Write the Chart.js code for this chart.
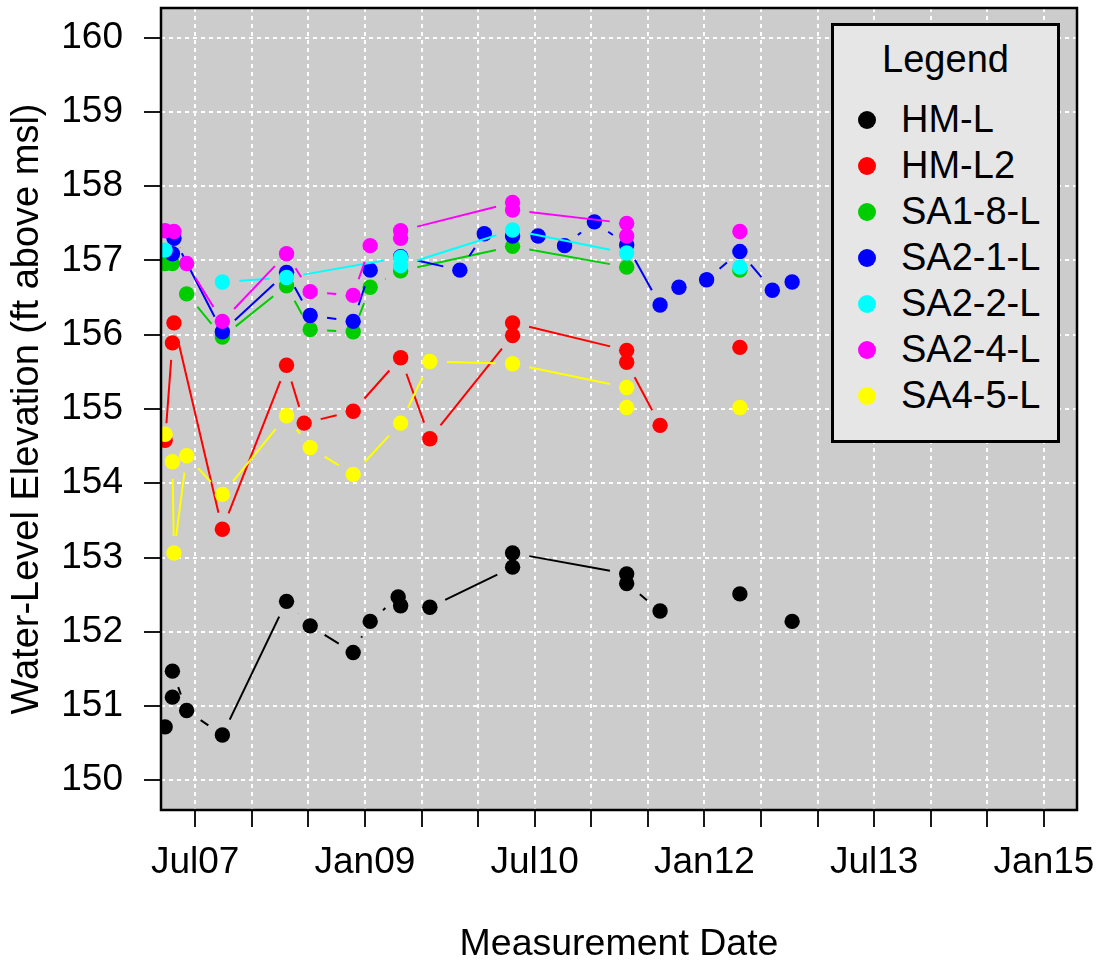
<!DOCTYPE html>
<html lang="en">
<head>
<meta charset="UTF-8">
<title>Water-Level Elevation</title>
<script src="https://cdn.jsdelivr.net/npm/chart.js"></script>
<style>
    body {
        margin: 0;
        background-color: #fff;
        font-family: "Liberation Sans", Arial, sans-serif;
    }
    .wrap {
        position: relative;
        width: 1099px;
        height: 963px;
    }
    #legend {
        position: absolute;
        left: 831px;
        top: 23px;
        width: 229px;
        height: 420px;
        box-sizing: border-box;
        border: 3px solid #000;
        background-color: #e6e6e6;
        color: #000;
    }
    #legend .title {
        position: absolute;
        left: 0;
        width: 100%;
        top: 15px;
        text-align: center;
        font-size: 38px;
        line-height: 37px;
    }
    #legend .row {
        position: absolute;
        left: 0;
        height: 37px;
        line-height: 37px;
        font-size: 38px;
        white-space: nowrap;
    }
    #legend .dot {
        position: absolute;
        left: 24px;
        top: 10px;
        width: 18px;
        height: 18px;
        border-radius: 50%;
    }
    #legend .label {
        position: absolute;
        left: 67px;
        top: 0;
    }
</style>
</head>
<body>
<div class="wrap">
    <canvas id="chartCanvas" width="1099" height="963"></canvas>
    <div id="legend"></div>
</div>
<script>
    // well names and colours, legend order
    const wellNames = ['HM-L', 'HM-L2', 'SA1-8-L', 'SA2-1-L', 'SA2-2-L', 'SA2-4-L', 'SA4-5-L'];
    const wellColors = ['#000000', '#ff0000', '#00cd00', '#0000ff', '#00ffff', '#ff00ff', '#ffff00'];

    // measurements (ft above msl), null = missing reading (breaks the line)
    const hmlDates = ['2007-03-26', '2007-04-19', '2007-04-19', '2007-06-04', '2007-09-28', '2008-04-22', '2008-07-07',
        '2008-11-24', '2009-01-18', '2009-04-17', '2009-04-25', '2009-07-28', '2010-04-21', '2010-04-21',
        '2011-04-24', '2011-04-24', '2011-08-10', '2012-01-08', '2012-04-24', '2012-08-07', '2012-10-10'];
    const hmlLevels = [150.72, 151.12, 151.47, 150.94, 150.61, 152.41, 152.08,
        151.72, 152.14, 152.47, 152.35, 152.33, 152.87, 153.06,
        152.78, 152.65, 152.28, null, 152.51, null, 152.14];

    const hml2Dates = ['2007-03-26', '2007-04-19', '2007-04-24', '2007-09-28', '2008-04-22', '2008-06-18', '2008-11-24',
        '2009-04-25', '2009-07-28', '2010-04-21', '2010-04-21', '2011-04-24', '2011-04-24', '2011-08-10',
        '2012-01-08', '2012-04-24'];
    const hml2Levels = [154.58, 155.89, 156.16, 153.38, 155.59, 154.81, 154.97,
        155.69, 154.60, 155.99, 156.16, 155.79, 155.63, 154.78,
        null, 155.83];

    const sa18Dates = ['2007-03-26', '2007-04-19', '2007-06-04', '2007-09-28', '2008-04-22', '2008-07-07', '2008-11-24',
        '2009-01-18', '2009-04-25', '2010-04-21', '2011-04-24', '2012-01-08', '2012-04-24'];
    const sa18Levels = [156.96, 156.96, 156.55, 155.97, 156.66, 156.07, 156.04,
        156.64, 156.86, 157.19, 156.91, null, 156.87];

    const sa21Dates = ['2007-04-19', '2007-04-24', '2007-09-28', '2008-04-22', '2008-07-07', '2008-11-24', '2009-01-18',
        '2009-04-25', '2009-11-03', '2010-01-21', '2010-04-21', '2010-07-12', '2010-10-06', '2011-01-11',
        '2011-04-24', '2011-08-10', '2011-10-10', '2012-01-08', '2012-04-24', '2012-08-07', '2012-10-10'];
    const sa21Levels = [157.09, 157.30, 156.04, 156.84, 156.26, 156.18, 156.87,
        157.05, 156.87, 157.36, 157.33, 157.33, 157.20, 157.52,
        157.21, 156.40, 156.64, 156.74, 157.12, 156.60, 156.71];

    const sa22Dates = ['2007-03-26', '2007-06-04', '2007-09-28', '2008-04-22', '2009-04-25', '2009-04-25', '2010-04-21',
        '2011-04-24', '2012-01-08', '2012-04-24'];
    const sa22Levels = [157.14, null, 156.71, 156.77, 157.04, 156.93, 157.41,
        157.10, null, 156.91];

    const sa24Dates = ['2007-03-26', '2007-04-24', '2007-06-04', '2007-09-28', '2008-04-22', '2008-07-07', '2008-11-24',
        '2009-01-18', '2009-04-25', '2009-04-25', '2010-04-21', '2010-04-21', '2011-04-24', '2011-04-24',
        '2012-01-08', '2012-04-24'];
    const sa24Levels = [157.40, 157.39, 156.96, 156.18, 157.09, 156.58, 156.53,
        157.20, 157.30, 157.40, 157.78, 157.68, 157.50, 157.33,
        null, 157.39];

    const sa45Dates = ['2007-03-26', '2007-04-19', '2007-04-24', '2007-06-04', '2007-09-28', '2008-04-22', '2008-07-07',
        '2008-11-24', '2009-04-25', '2009-07-28', '2010-04-21', '2011-04-24', '2011-04-24', '2012-01-08',
        '2012-04-24'];
    const sa45Levels = [154.66, 154.29, 153.06, 154.37, 153.85, 154.91, 154.48,
        154.12, 154.81, 155.64, 155.61, 155.29, 155.02, null,
        155.02];

    // axis ticks (every six months, label every 18 months)
    const tickDates = ['2007-07-01', '2008-01-01', '2008-07-01', '2009-01-01', '2009-07-01', '2010-01-01',
        '2010-07-01', '2011-01-01', '2011-07-01', '2012-01-01', '2012-07-01', '2013-01-01',
        '2013-07-01', '2014-01-01', '2014-07-01', '2015-01-01'];
    const tickLabels = ['Jul07', '', '', 'Jan09', '', '', 'Jul10', '', '', 'Jan12', '', '', 'Jul13', '', '', 'Jan15'];
    const yTicks = [150, 151, 152, 153, 154, 155, 156, 157, 158, 159, 160];

    const wellDates = [hmlDates, hml2Dates, sa18Dates, sa21Dates, sa22Dates, sa24Dates, sa45Dates];
    const wellLevels = [hmlLevels, hml2Levels, sa18Levels, sa21Levels, sa22Levels, sa24Levels, sa45Levels];

    // months since Jan 2007
    function toMonths(s) {
        const [y, m, d] = s.split('-').map(Number);
        return (y - 2007) * 12 + (m - 1) + (d - 1) / 30.44;
    }

    const FONT = '"Liberation Sans", Arial, sans-serif';
    const GAP = 17;

    // R type="b" style lines: segments with a gap around each point
    const gapLines = {
        id: 'gapLines',
        beforeDatasetDraw(chart, args) {
            const ds = chart.data.datasets[args.index];
            const pts = args.meta.data;
            const area = chart.chartArea;
            const ctx = chart.ctx;
            ctx.save();
            ctx.beginPath();
            ctx.rect(area.left, area.top, area.right - area.left, area.bottom - area.top);
            ctx.clip();
            ctx.strokeStyle = ds.backgroundColor;
            ctx.lineWidth = 2;
            ctx.beginPath();
            for (let i = 1; i < pts.length; i++) {
                if (ds.data[i - 1].y == null || ds.data[i].y == null) continue;
                const a = pts[i - 1], b = pts[i];
                const dx = b.x - a.x, dy = b.y - a.y;
                const d = Math.hypot(dx, dy);
                if (d <= 2 * GAP) continue;
                const ux = dx / d, uy = dy / d;
                ctx.moveTo(a.x + ux * GAP, a.y + uy * GAP);
                ctx.lineTo(b.x - ux * GAP, b.y - uy * GAP);
            }
            ctx.stroke();
            ctx.restore();
        }
    };

    const plotFrame = {
        id: 'plotFrame',
        beforeDraw(chart) {
            const a = chart.chartArea;
            const ctx = chart.ctx;
            ctx.save();
            ctx.fillStyle = '#cccccc';
            ctx.fillRect(a.left, a.top, a.right - a.left, a.bottom - a.top);
            ctx.restore();
        },
        afterDraw(chart) {
            const a = chart.chartArea;
            const ctx = chart.ctx;
            ctx.save();
            ctx.strokeStyle = '#000';
            ctx.lineWidth = 2.5;
            ctx.strokeRect(a.left, a.top, a.right - a.left, a.bottom - a.top);
            ctx.restore();
        }
    };

    const datasets = wellNames.map((name, k) => ({
        label: name,
        data: wellDates[k].map((d, i) => ({ x: toMonths(d), y: wellLevels[k][i] })),
        backgroundColor: wellColors[k],
        borderColor: wellColors[k],
        pointRadius: 7.7,
        pointBorderWidth: 0,
        showLine: false,
        clip: 0,
        order: wellNames.length - k
    }));

    const ctx = document.getElementById('chartCanvas').getContext('2d');
    new Chart(ctx, {
        type: 'scatter',
        data: { datasets: datasets },
        options: {
            responsive: false,
            animation: false,
            events: [],
            layout: { padding: { top: 8, right: 22, left: 0, bottom: 0 } },
            plugins: {
                legend: { display: false },
                tooltip: { enabled: false }
            },
            scales: {
                x: {
                    type: 'linear',
                    min: 2.38,
                    max: 99.5,
                    afterBuildTicks: s => { s.ticks = tickDates.map(d => ({ value: toMonths(d) })); },
                    afterFit: s => { s.height = 153; s.paddingLeft = 0; s.paddingRight = 0; },
                    ticks: {
                        autoSkip: false,
                        maxRotation: 0,
                        minRotation: 0,
                        padding: 14,
                        color: '#000',
                        font: { family: FONT, size: 37 },
                        callback: (v, i) => tickLabels[i]
                    },
                    grid: {
                        color: '#ffffff',
                        lineWidth: 2,
                        tickColor: '#000',
                        tickLength: 17,
                        tickWidth: 1.8
                    },
                    border: { display: false, dash: [4, 4] },
                    title: {
                        display: true,
                        text: 'Measurement Date',
                        color: '#000',
                        font: { family: FONT, size: 37.5 },
                        padding: { top: 0, bottom: -4 }
                    }
                },
                y: {
                    min: 149.6,
                    max: 160.4,
                    afterBuildTicks: s => { s.ticks = yTicks.map(v => ({ value: v })); },
                    afterFit: s => { s.width = 161; s.paddingTop = 0; s.paddingBottom = 0; },
                    ticks: {
                        padding: 21,
                        color: '#000',
                        font: { family: FONT, size: 37 },
                        callback: v => String(v)
                    },
                    grid: {
                        color: '#ffffff',
                        lineWidth: 2,
                        tickColor: '#000',
                        tickLength: 17,
                        tickWidth: 1.8
                    },
                    border: { display: false, dash: [4, 4] },
                    title: {
                        display: true,
                        text: 'Water-Level Elevation (ft above msl)',
                        color: '#000',
                        font: { family: FONT, size: 38 },
                        padding: { top: 5, bottom: 0 }
                    }
                }
            }
        },
        plugins: [plotFrame, gapLines]
    });

    // legend box
    const legend = document.getElementById('legend');
    let html = '<div class="title">Legend</div>';
    wellNames.forEach((name, k) => {
        html += '<div class="row" style="top:' + (75 + 46 * k) + 'px">' +
            '<span class="dot" style="background:' + wellColors[k] + '"></span>' +
            '<span class="label">' + name + '</span></div>';
    });
    legend.innerHTML = html;
</script>
</body>
</html>
